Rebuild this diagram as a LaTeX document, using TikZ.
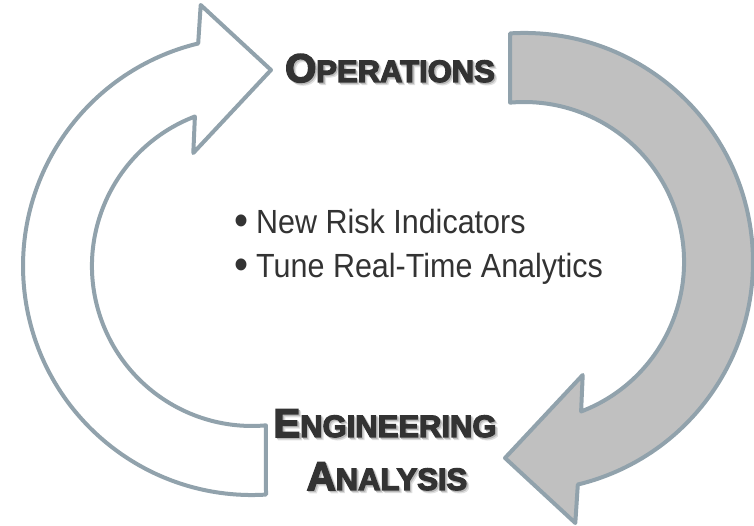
\documentclass[tikz,border=0pt]{standalone}
\usepackage{fontspec}
\newfontfamily\headfont{Liberation Sans Bold}[FakeBold=4]
\newfontfamily\bodyfont{Liberation Sans}[FakeStretch=0.91]
\definecolor{rimgray}{HTML}{91A2AC}
\definecolor{bandgray}{HTML}{C0C0C0}
\definecolor{inkgray}{HTML}{333333}
% one big capital followed by smaller capitals
\newcommand\capword[2]{{\fontsize{40}{42}\selectfont #1}{\fontsize{31}{33}\selectfont #2}}
% heading text with a soft shadow below right
\newcommand\shadowed[1]{%
  \makebox[0pt][l]{\hspace{2.6pt}\raisebox{-2.6pt}{\color{black!12}#1}}%
  \makebox[0pt][l]{\hspace{1.4pt}\raisebox{-1.4pt}{\color{black!28}#1}}%
  #1}
% a larger bullet than the font gives
\newcommand\listdot{{\fontsize{44}{40}\selectfont\raisebox{-1.5pt}{\textbullet}}\hspace{8pt}}
\tikzset{
  band/.style={draw=rimgray, line width=4pt, line join=round},
  heading/.style={font=\headfont, text=inkgray, inner sep=0pt, anchor=base},
  bullet/.style={font=\bodyfont\fontsize{33.5}{40}\selectfont, text=inkgray, inner sep=0pt, anchor=base west},
}
\begin{document}
\begin{tikzpicture}[x=1pt,y=1pt]
\useasboundingbox (0,0) rectangle (754,526);
% the two curved arrows, the second one turned half round
\foreach \rot/\col in {0/white,180/bandgray}
  \draw[band, fill=\col, rotate around={\rot:(388,262)}]
    (266,31.4) arc[start angle=273.5, end angle=103.6, radius=229]
    -- (200.7,521) -- (271,456) -- (193.3,373) -- (194.9,409.5)
    arc[start angle=110.9, end angle=275, radius=160] -- cycle;
% headings
\node[heading] (ops) at (390,444) {\shadowed{\capword{O}{PERATIONS}}};
\node[heading] (eng) at (385,89) {\shadowed{\capword{E}{NGINEERING}}};
\node[heading] (ana) at (387,36) {\shadowed{\capword{A}{NALYSIS}}};
% bullet list
\node[bullet] (risk) at (234,292) {\listdot New Risk Indicators};
\node[bullet] (tune) at (234,248) {\listdot Tune Real-Time Analytics};
\end{tikzpicture}
\end{document}
